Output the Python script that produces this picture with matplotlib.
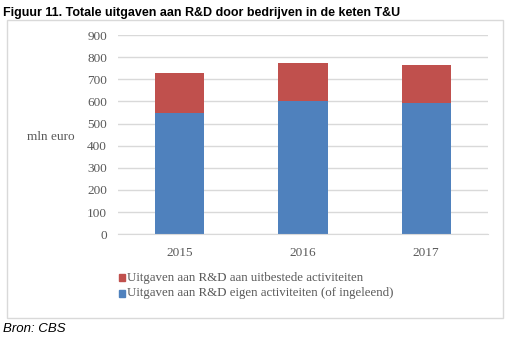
import matplotlib
matplotlib.use('Agg')
import matplotlib.pyplot as plt
from matplotlib.patches import Rectangle
import numpy as np

# Data (mln euro)
years = ['2015', '2016', '2017']
eigen = [547, 600, 591]
uitbesteed = [180, 172, 172]
labelUit = 'Uitgaven aan R&D aan uitbestede activiteiten'
labelEigen = 'Uitgaven aan R&D eigen activiteiten (of ingeleend)'

blue = '#4F81BD'
red = '#C0504D'
textColor = '#595959'
serif = ['Liberation Serif', 'DejaVu Serif']

fig = plt.figure(figsize=(5.05, 3.4), dpi=100)
ax = fig.add_axes([0.2337, 0.311, 0.7323, 0.586])

x = np.arange(len(years))
ax.bar(x, eigen, width=0.4, color=blue, zorder=2)
ax.bar(x, uitbesteed, width=0.4, bottom=eigen, color=red, zorder=2)

ax.set_xlim(-0.5, 2.5)
ax.set_ylim(0, 900)
ax.set_yticks(range(0, 901, 100))
ax.set_xticks(x)
ax.set_xticklabels(years)
ax.grid(axis='y', color='#D9D9D9', linewidth=1, zorder=0)
for side in ['top', 'right', 'left']:
    ax.spines[side].set_visible(False)
ax.spines['bottom'].set_color('#D9D9D9')
ax.tick_params(length=0, labelsize=9.5, labelcolor=textColor, pad=8)
for lbl in ax.get_xticklabels() + ax.get_yticklabels():
    lbl.set_family(serif)
ax.tick_params(axis='x', pad=9)

fig.text(0.053, 0.598, 'mln euro', fontsize=9.5, color=textColor,
         family=serif, va='center', ha='left')

# Legend drawn by hand to match the two-row layout
legendItems = [(labelUit, red, 0.183), (labelEigen, blue, 0.137)]
for text, color, ypos in legendItems:
    fig.patches.append(Rectangle((0.236, ypos - 0.010), 0.012, 0.020,
                                 transform=fig.transFigure, color=color))
    fig.text(0.251, ypos, text, fontsize=9.3, color=textColor,
             family=serif, va='center', ha='left')

# Chart border
fig.patches.append(Rectangle((0.014, 0.066), 0.982, 0.876,
                             transform=fig.transFigure, fill=False,
                             edgecolor='#D9D9D9', linewidth=1))

fig.text(0.006, 0.962, 'Figuur 11. Totale uitgaven aan R&D door bedrijven in de keten T&U',
         fontsize=9, fontweight='bold', family=['Liberation Sans', 'DejaVu Sans'],
         va='center', ha='left', color='black')
fig.text(0.006, 0.032, 'Bron: CBS', fontsize=9.5, style='italic',
         family=['Liberation Sans', 'DejaVu Sans'], va='center', ha='left')

plt.savefig('out.png', dpi=100)
